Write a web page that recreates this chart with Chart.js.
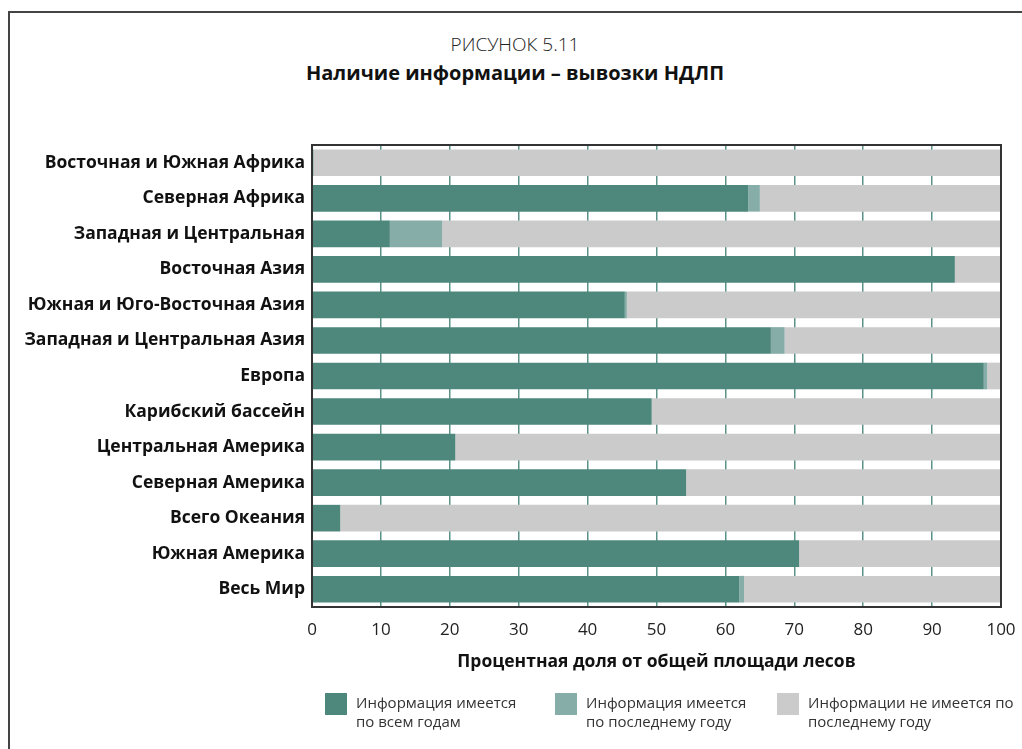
<!DOCTYPE html>
<html lang="ru">
<head>
<meta charset="utf-8">
<title>Наличие информации – вывозки НДЛП</title>
<script src="https://cdn.jsdelivr.net/npm/chart.js@4.4.1/dist/chart.umd.min.js"></script>
<style>
    html, body { margin: 0; padding: 0; background: #fff; }
    body { width: 1022px; height: 749px; position: relative; overflow: hidden; font-family: 'Open Sans', 'Noto Sans', sans-serif; color: #111; }
    #frame { position: absolute; left: 8px; top: 11px; right: -4px; bottom: -4px; border-top: 2px solid #444; border-left: 2px solid #444; }
    #chart-wrap { position: absolute; left: 0; top: 0; width: 1022px; height: 749px; }
    .fig-no { position: absolute; top: 31px; left: 0; width: 1030px; text-align: center; font-size: 19px; font-weight: 300; color: #222; }
    .fig-title { position: absolute; top: 59px; left: 0; width: 1030px; text-align: center; font-size: 20px; font-weight: 700; }
    .legend-item { position: absolute; top: 693px; display: flex; align-items: flex-start; }
    .legend-item .sw { width: 22px; height: 22px; margin-right: 9px; flex: none; }
    .legend-item .txt { font-size: 15px; line-height: 19px; color: #333; font-weight: 400; margin-top: 0; }
</style>
</head>
<body>
<div id="frame"></div>
<div class="fig-no">РИСУНОК 5.11</div>
<div class="fig-title">Наличие информации – вывозки НДЛП</div>
<div id="chart-wrap"><canvas id="chart" width="1022" height="749"></canvas></div>
<div id="legend"></div>

<script>
// Regions, top to bottom
const regions = [
    'Восточная и Южная Африка',
    'Северная Африка',
    'Западная и Центральная',
    'Восточная Азия',
    'Южная и Юго-Восточная Азия',
    'Западная и Центральная Азия',
    'Европа',
    'Карибский бассейн',
    'Центральная Америка',
    'Северная Америка',
    'Всего Океания',
    'Южная Америка',
    'Весь Мир'
];

// % of total forest area
const allYears   = [0.2, 63.3, 11.3, 93.3, 45.4, 66.6, 97.5, 49.3, 20.8, 54.3, 4.1, 70.7, 62.0];
const latestOnly = [0,    1.7,  7.6,  0,    0.3,  2.0,  0.5,  0,    0,    0,    0,   0,    0.7];
const noInfo     = [99.8, 35.0, 81.1, 6.7, 54.3, 31.4,  2.0, 50.7, 79.2, 45.7, 95.9, 29.3, 37.3];

const xTicks = [0, 10, 20, 30, 40, 50, 60, 70, 80, 90, 100];

const seriesNames = [
    ['Информация имеется', 'по всем годам'],
    ['Информация имеется', 'по последнему году'],
    ['Информации не имеется по', 'последнему году']
];
const seriesColors = ['#4e877c', '#86ada8', '#cbcbcb'];
const legendX = [325, 555, 777];

const FONT = "'Open Sans', 'Noto Sans', sans-serif";

// plot frame drawn round the chart area
const frameBox = {
    id: 'frameBox',
    afterDatasetsDraw(chart) {
        const { ctx, chartArea: a } = chart;
        ctx.save();
        ctx.strokeStyle = '#333';
        ctx.lineWidth = 2;
        ctx.strokeRect(a.left, a.top, a.right - a.left, a.bottom - a.top);
        ctx.restore();
    }
};

const datasets = [allYears, latestOnly, noInfo].map((vals, i) => ({
    label: seriesNames[i].join(' '),
    data: vals,
    backgroundColor: seriesColors[i],
    borderWidth: 0,
    barPercentage: 0.75,
    categoryPercentage: 1
}));

new Chart(document.getElementById('chart'), {
    type: 'bar',
    data: { labels: regions, datasets },
    plugins: [frameBox],
    options: {
        indexAxis: 'y',
        responsive: false,
        animation: false,
        layout: { padding: { top: 145, right: 21, bottom: 76, left: 0 } },
        plugins: {
            legend: { display: false },
            tooltip: { enabled: false }
        },
        scales: {
            x: {
                stacked: true,
                min: 0,
                max: 100,
                afterBuildTicks: (scale) => { scale.ticks = xTicks.map(v => ({ value: v })); },
                afterFit: (scale) => {
                    scale.height = 66;
                    // let the "100" label hang into the right margin
                    scale.paddingLeft = 0;
                    scale.paddingRight = 0;
                },
                grid: { color: '#5b9187', lineWidth: 1.5, drawTicks: false },
                border: { display: false },
                ticks: { color: '#222', padding: 13, font: { family: FONT, size: 17 } },
                title: {
                    display: true,
                    text: 'Процентная доля от общей площади лесов',
                    color: '#111',
                    padding: { top: 12, bottom: 0 },
                    font: { family: FONT, size: 17.5, weight: 'bold' }
                }
            },
            y: {
                stacked: true,
                afterFit: (scale) => { scale.width = 312; },
                grid: { display: false, drawTicks: false },
                border: { display: false },
                ticks: { color: '#111', padding: 7, font: { family: FONT, size: 17.5, weight: 'bold' } }
            }
        }
    }
});

// legend
document.getElementById('legend').innerHTML = seriesNames.map((lines, i) => `
    <div class="legend-item" style="left:${legendX[i]}px">
        <div class="sw" style="background:${seriesColors[i]}"></div>
        <div class="txt">${lines.join('<br>')}</div>
    </div>
`).join('');
</script>
</body>
</html>
